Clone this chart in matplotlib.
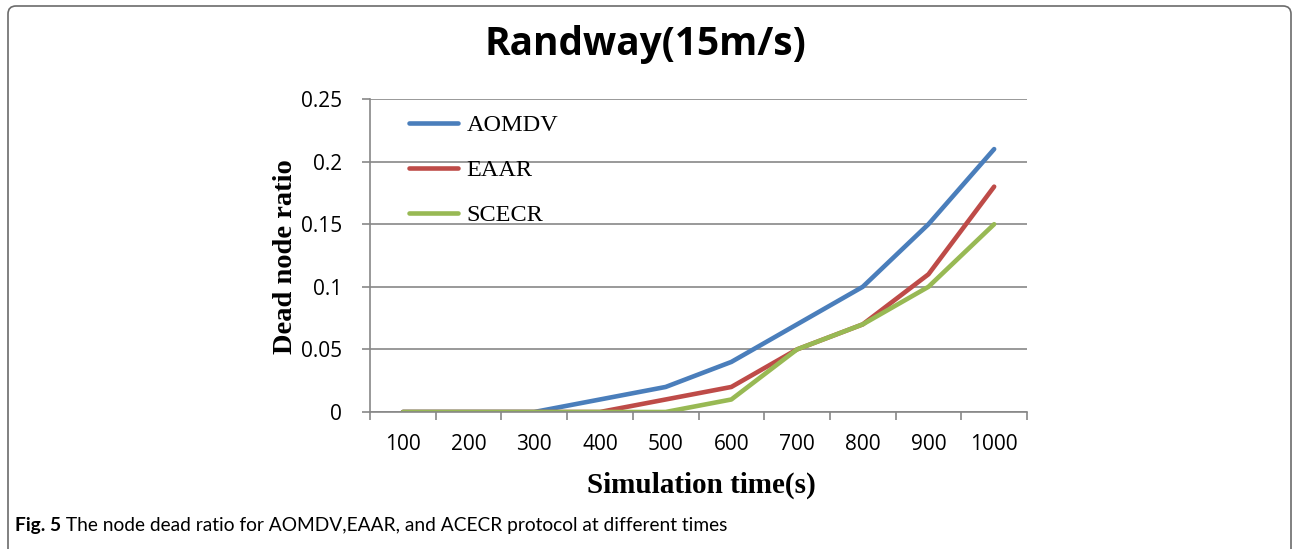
import matplotlib
matplotlib.use("Agg")
import matplotlib.pyplot as plt
from matplotlib.patches import FancyBboxPatch
import numpy as np

# data
times = ['100', '200', '300', '400', '500', '600', '700', '800', '900', '1000']
aomdv = [0, 0, 0, 0.01, 0.02, 0.04, 0.07, 0.10, 0.15, 0.21]
eaar = [0, 0, 0, 0, 0.01, 0.02, 0.05, 0.07, 0.11, 0.18]
scecr = [0, 0, 0, 0, 0, 0.01, 0.05, 0.07, 0.10, 0.15]
yticks = [0, 0.05, 0.1, 0.15, 0.2, 0.25]
ytick_labels = ['0', '0.05', '0.1', '0.15', '0.2', '0.25']

serif = ['Liberation Serif', 'DejaVu Serif']
sans = ['Open Sans', 'DejaVu Sans']
grey = '#878787'

fig = plt.figure(figsize=(12.94, 5.49), dpi=100)
ax = fig.add_axes([370/1294, 1-412/549, 657/1294, 313/549])

x = np.arange(len(times))
ax.plot(x, aomdv, color='#4A7EBB', lw=3.3, label='AOMDV', solid_capstyle='round')
ax.plot(x, eaar, color='#BE4B48', lw=3.3, label='EAAR', solid_capstyle='round')
ax.plot(x, scecr, color='#98B954', lw=3.3, label='SCECR', solid_capstyle='round')

ax.set_xlim(-0.5, len(times) - 0.5)
ax.set_ylim(0, 0.25)
ax.set_yticks(yticks)
ax.set_yticklabels(ytick_labels, family=sans, fontsize=15)
ax.set_xticks(x)
ax.set_xticklabels(times, family=sans, fontsize=15)
ax.set_xticks(np.arange(-0.5, len(times)), minor=True)
ax.tick_params(axis='x', which='major', length=0, pad=16)
ax.tick_params(axis='x', which='minor', length=6, color=grey, width=1.2)
ax.tick_params(axis='y', length=6, color=grey, width=1.2, pad=14)
ax.grid(axis='y', color=grey, lw=1.2)
ax.set_axisbelow(True)
for s in ['top', 'right']:
    ax.spines[s].set_visible(False)
for s in ['left', 'bottom']:
    ax.spines[s].set_color(grey)
    ax.spines[s].set_linewidth(1.2)

ax.legend(loc='upper left', bbox_to_anchor=(0.06, 0.952), frameon=False,
          prop={'family': serif, 'size': 17.5}, handlelength=2.0,
          handletextpad=0.35, labelspacing=0.95, borderpad=0, borderaxespad=0)

fig.text(645/1294, 1-45/549, 'Randway(15m/s)', ha='center', va='center',
         family=sans, fontsize=28, fontweight='bold')
fig.text(701/1294, 1-485/549, 'Simulation time(s)', ha='center', va='center',
         family=serif, fontsize=21, fontweight='bold')
fig.text(285/1294, 1-257/549, 'Dead node ratio', ha='center', va='center',
         rotation=90, family=serif, fontsize=20.5, fontweight='bold')

cap_font = ['Lato', 'DejaVu Sans']
t1 = fig.text(15/1294, 1-525/549, 'Fig. 5', ha='left', va='center',
              family=cap_font, fontsize=13.8, fontweight='bold')
ax.annotate(' The node dead ratio for AOMDV,EAAR, and ACECR protocol at different times',
            xy=(1, 0), xycoords=t1, ha='left', va='bottom',
            family=cap_font, fontsize=13.8, annotation_clip=False)

border = FancyBboxPatch((0.08, -0.2), 12.83, 5.63, transform=fig.dpi_scale_trans,
                        boxstyle='round,pad=0,rounding_size=0.08',
                        fill=False, edgecolor='#6b6b6b', lw=1.2)
fig.patches.append(border)

fig.savefig('out.png', dpi=100)
